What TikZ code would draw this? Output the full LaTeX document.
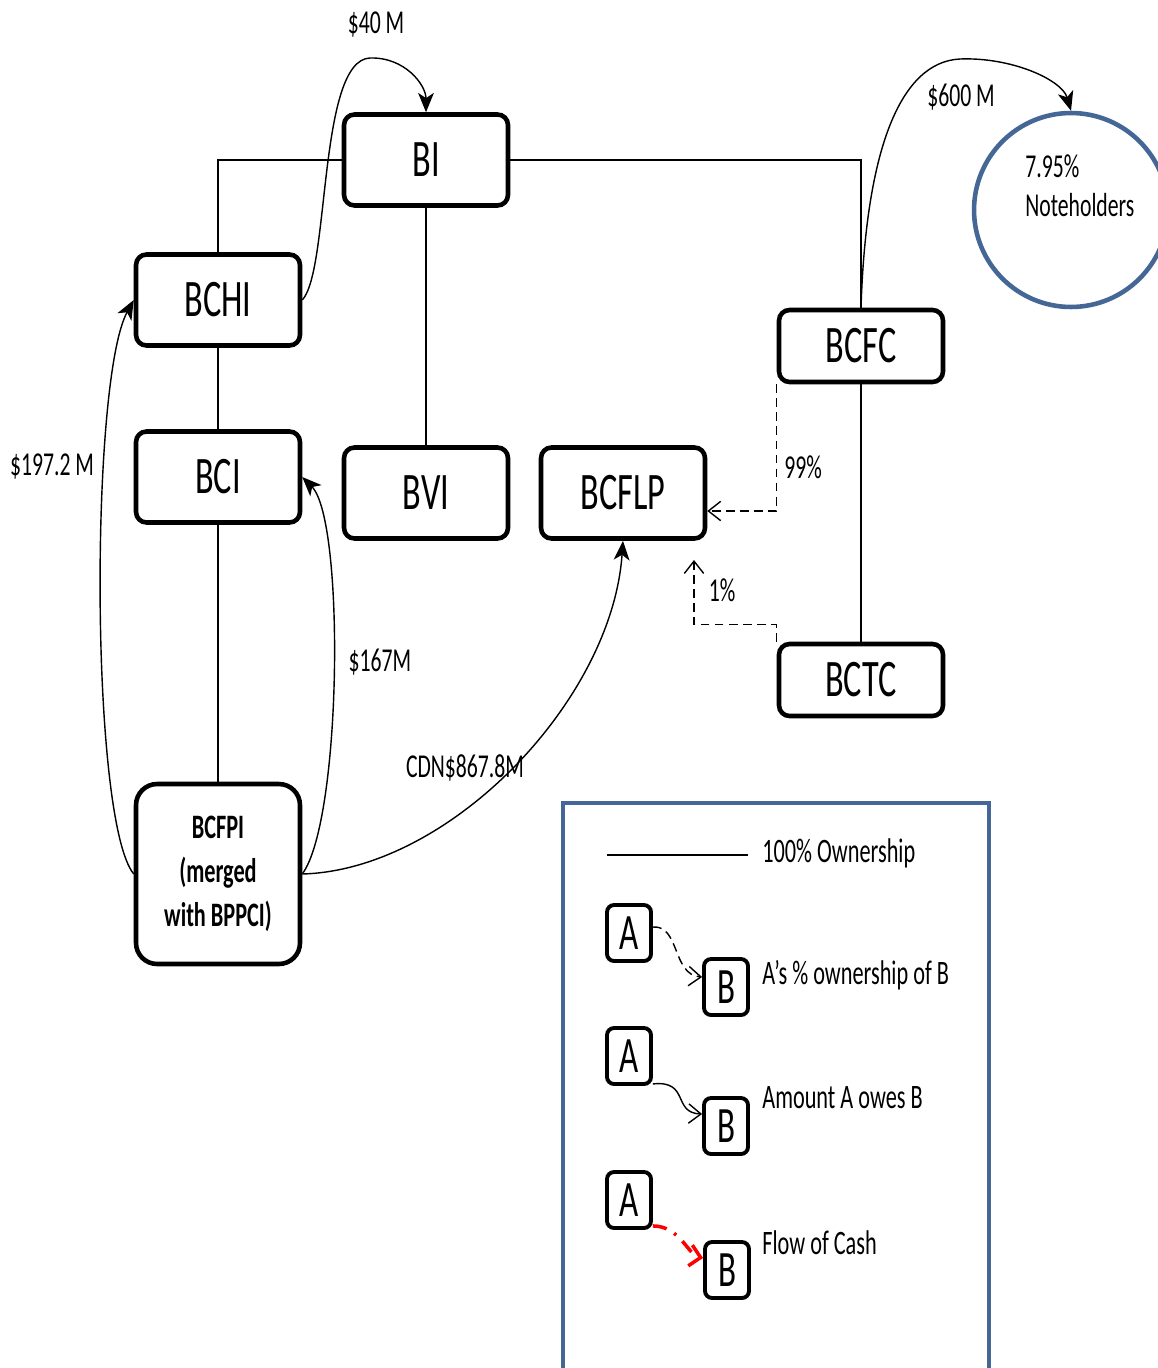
\documentclass[tikz,border=0pt]{standalone}
\usepackage{fontspec}
\setmainfont{Carlito}[FakeStretch=0.65]
\usetikzlibrary{arrows.meta,positioning,calc}

\definecolor{frameblue}{RGB}{68,103,150}

\begin{document}
\begin{tikzpicture}[
  x=0.02cm, y=-0.02cm,
  font=\fontsize{19}{21}\selectfont,
  entity/.style={draw, line width=2.6pt, rounded corners=6pt, minimum width=3.28cm,
                 minimum height=1.82cm, inner sep=2pt, font=\fontsize{30}{34}\selectfont},
  flat/.style={entity, minimum height=1.44cm},
  key/.style={draw, line width=2.2pt, rounded corners=4pt, minimum width=0.88cm,
              minimum height=1.12cm, inner sep=0pt, font=\fontsize{29}{32}\selectfont},
  own/.style={line width=0.8pt},
  share/.style={line width=0.8pt, dash pattern=on 5pt off 3pt,
                -{Straight Barb[length=7pt,width=11pt]}},
  owes/.style={line width=0.8pt, -{Stealth[length=11pt,width=9pt,inset=3pt]}},
  keyowes/.style={line width=0.8pt, -{Straight Barb[length=7pt,width=11pt]}},
  cashflow/.style={red, line width=2pt, dash pattern=on 8pt off 5pt on 1.5pt off 5pt,
                   -{Straight Barb[length=6pt,width=12pt]}},
  keytext/.style={anchor=west, inner sep=0pt, font=\fontsize{19.5}{22}\selectfont}]
\path[use as bounding box, fill=white] (0,0) rectangle (1157,1368);

% companies
\node[entity] (bi)    at (426,160) {BI};
\node[entity] (bchi)  at (218,300) {BCHI};
\node[entity] (bci)   at (218,477) {BCI};
\node[entity] (bvi)   at (426,493) {BVI};
\node[entity] (bcflp) at (623,493) {BCFLP};
\node[flat]   (bcfc)  at (861,346) {BCFC};
\node[flat]   (bctc)  at (861,680) {BCTC};
\node[entity, minimum height=3.6cm, rounded corners=12pt, align=center,
      font=\bfseries\fontsize{19.5}{25}\selectfont] (bcfpi) at (218,874)
      {BCFPI\\(merged\\with BPPCI)};
\node[circle, draw=frameblue, line width=2.6pt, minimum size=3.88cm] (nh) at (1071,210) {};
\node[anchor=west, align=left, inner sep=0pt, font=\fontsize{19}{22}\selectfont]
      (nhtext) at (1025,186) {7.95\%\\Noteholders};

% 100% ownership
\draw[own] (bi.west) -| (bchi.north);
\draw[own] (bi.east) -| (bcfc.north);
\draw[own] (bi.south) -- (bvi.north);
\draw[own] (bchi) -- (bci);
\draw[own] (bci) -- (bcfpi);
\draw[own] (bcfc) -- (bctc);

% partial ownership
\coordinate (onepct) at (694,560);
\draw[share] (bcfc.south west) |- ($(bcflp.east)+(0,18)$);
\draw[share] (bctc.north west) -- ++(0,-17) -| (onepct);
\node (l99) at (803,467) {99\%};
\node (l1)  at (722,590) {1\%};

% amounts owed
\draw[owes] (bchi.east) .. controls (330,270) and (318,60) .. (370,58)
            .. controls (405,57) and (426,85) .. (bi.north);
\draw[owes] (bcfpi.west) .. controls (90,820) and (90,380) .. (bchi.west);
\draw[owes] (bcfpi.east) .. controls (342,820) and (345,520) .. (bci.east);
\draw[owes] (bcfpi.east) .. controls (450,870) and (612,700) .. (bcflp.south);
\draw[owes] (bcfc.north) .. controls (866,150) and (900,62) .. (960,59)
            .. controls (1012,57) and (1062,80) .. (nh.north);
\node (l40)  at (376,25)  {\$40 M};
\node (l600) at (961,97)  {\$600 M};
\node (l197) at (52,467)  {\$197.2 M};
\node (l167) at (380,662) {\$167M};
\node (l868) at (465,768) {CDN\$867.8M};

% legend
\draw[frameblue, line width=1.8pt] (563,803) rectangle (989,1385);
\coordinate (ownA) at (607,855);
\coordinate (ownB) at (748,855);
\draw[own] (ownA) -- (ownB);
\node[keytext] (kown) at (762,853) {100\% Ownership};

\node[key] (a1) at (629,933)  {A};
\node[key] (b1) at (726,987)  {B};
\node[key] (a2) at (629,1056) {A};
\node[key] (b2) at (726,1126) {B};
\node[key] (a3) at (629,1200) {A};
\node[key] (b3) at (727,1270) {B};
\draw[share] ($(a1.east)+(0,-6)$) .. controls (680,925) and (672,975) .. ($(b1.west)+(0,-10)$);
\draw[keyowes] ($(a2.south east)+(0,-2)$) .. controls (690,1080) and (672,1113) .. ($(b2.west)+(0,-12)$);
\draw[cashflow] ($(a3.south east)+(0,-4)$) .. controls (680,1226) and (688,1255) .. ($(b3.west)+(0,-12)$);
\node[keytext] (kshare) at (762,975)  {A’s \% ownership of B};
\node[keytext] (kowes)  at (762,1098) {Amount A owes B};
\node[keytext] (kcash)  at (762,1243) {Flow of Cash};
\end{tikzpicture}
\end{document}
